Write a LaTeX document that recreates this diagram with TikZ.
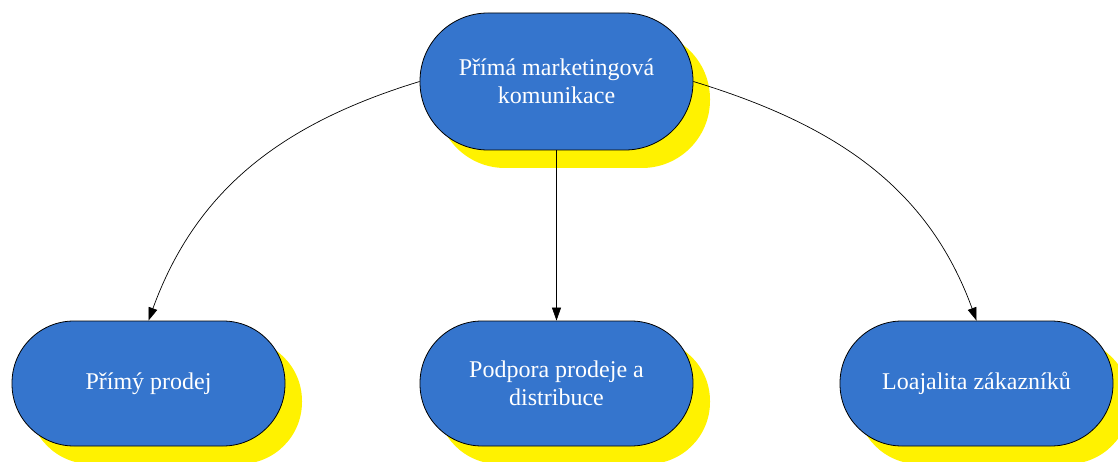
\documentclass[tikz,border=0pt]{standalone}
\usepackage{fontspec}
\setmainfont{Liberation Serif}
\usetikzlibrary{arrows.meta,shadows}

\definecolor{pillblue}{RGB}{53,117,205}

\begin{document}
\begin{tikzpicture}[x=1pt, y=1pt,
    pill/.style={draw=black, line width=0.8pt, fill=pillblue, text=white,
      rounded corners=62pt, minimum width=273pt, minimum height=125pt,
      align=center, font=\fontsize{24}{28}\selectfont,
      drop shadow={shadow xshift=17pt, shadow yshift=-18pt, fill=yellow, opacity=1}},
    link/.style={draw=black, line width=0.7pt, -{Triangle[length=13pt,width=9pt]}}]
      \useasboundingbox (0,0) rectangle (1118,461);
      \node[pill, minimum height=137pt, rounded corners=68pt] (top) at (556.5,379.5)
        {Přímá marketingová\\komunikace};
      \node[pill] (prodej) at (148.5,77.5) {Přímý prodej};
      \node[pill] (podpora) at (556.5,77.5) {Podpora prodeje a\\distribuce};
      \node[pill] (loajalita) at (976.5,77.5) {Loajalita zákazníků};
      \draw[link] (top.west) to[out=197, in=70] (prodej.north);
      \draw[link] (top.south) -- (podpora.north);
      \draw[link] (top.east) to[out=-17, in=110] (loajalita.north);
    \end{tikzpicture}
\end{document}
